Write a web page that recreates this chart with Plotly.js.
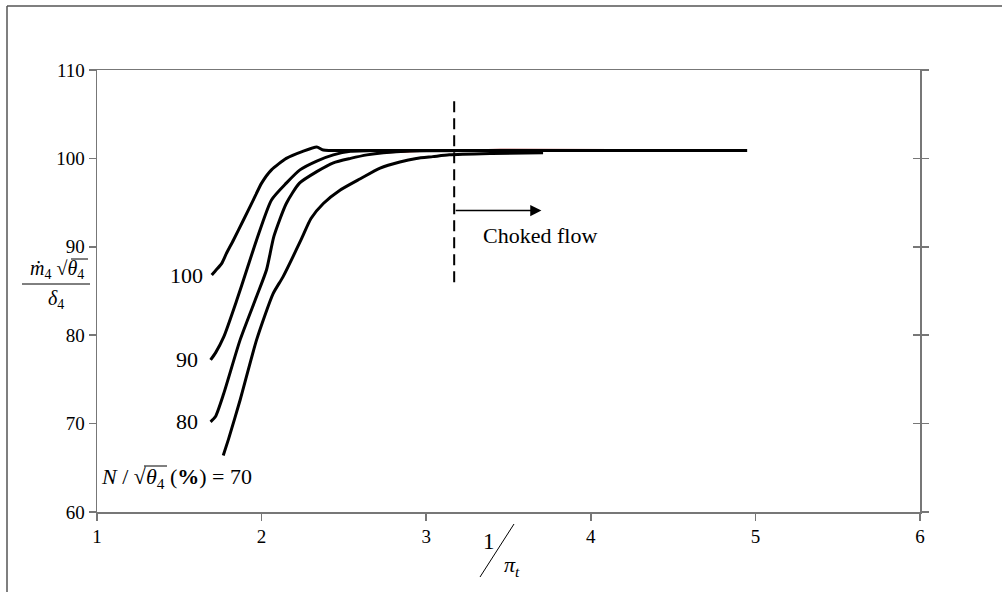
<!DOCTYPE html>
<html>
<head>
<meta charset="utf-8">
<script src="https://cdn.plot.ly/plotly-3.0.1.min.js"></script>
<style>
  html, body { margin: 0; padding: 0; background: #fff; }
  #chart { width: 1002px; height: 592px; }
</style>
</head>
<body>
<div id="chart"></div>
<script>
// Corrected turbine mass flow vs. inverse pressure ratio, one line per corrected speed
const speed100X = [1.697, 1.72, 1.757, 1.785, 1.83, 1.889, 1.95, 2.0, 2.06, 2.15, 2.25, 2.335, 2.375, 2.6, 3.5, 4.95];
const speed100Y = [86.8, 87.3, 88.1, 89.2, 90.8, 93.0, 95.3, 97.2, 98.7, 100.0, 100.8, 101.3, 100.95, 100.9, 100.9, 100.9];

const speed90X = [1.69, 1.72, 1.77, 1.85, 1.91, 1.97, 2.06, 2.15, 2.233, 2.335, 2.436, 2.54, 2.7, 3.0, 4.8];
const speed90Y = [77.2, 78.0, 79.8, 84.0, 87.4, 90.8, 95.3, 97.2, 98.7, 99.7, 100.4, 100.8, 100.9, 100.9, 100.9];

const speed80X = [1.69, 1.72, 1.77, 1.87, 1.97, 2.03, 2.075, 2.15, 2.23, 2.335, 2.436, 2.54, 2.64, 2.74, 2.9, 3.4];
const speed80Y = [70.2, 70.8, 73.4, 79.5, 84.4, 87.4, 91.2, 94.9, 97.2, 98.5, 99.5, 100.0, 100.4, 100.65, 100.85, 100.9];

const speed70X = [1.767, 1.80, 1.87, 1.97, 2.07, 2.13, 2.24, 2.3, 2.375, 2.476, 2.6, 2.72, 2.84, 2.94, 3.04, 3.14, 3.4, 3.71];
const speed70Y = [66.4, 68.3, 72.7, 79.5, 84.7, 86.6, 90.8, 93.2, 94.9, 96.4, 97.7, 98.9, 99.6, 100.0, 100.2, 100.4, 100.55, 100.65];

// thin reference line along the choked plateau
const plateauX = [2.7, 3.0, 3.45, 4.0, 4.8];
const plateauY = [100.6, 100.85, 101.0, 100.95, 100.95];

// onset of choking
const chokeX = 3.17;
const chokeSpanY = [86.0, 106.6];
const arrowEndX = 3.70;
const arrowY = 94.1;

const speedLabels = ["100", "90", "80"];
const xTicks = [1, 2, 3, 4, 5, 6];
const yTicks = [60, 70, 80, 90, 100, 110];

const serif = "Liberation Serif";
const black = "#000";

function curve(x, y) {
  return { x: x, y: y, type: "scatter", mode: "lines",
           line: { color: black, width: 3, shape: "spline", smoothing: 0.6 },
           hoverinfo: "skip", showlegend: false };
}

const traces = [
  { x: plateauX, y: plateauY, type: "scatter", mode: "lines",
    line: { color: "#8b0000", width: 1.5 }, hoverinfo: "skip", showlegend: false },
  curve(speed70X, speed70Y),
  curve(speed80X, speed80Y),
  curve(speed90X, speed90Y),
  curve(speed100X, speed100Y),
  { x: [chokeX, chokeX], y: chokeSpanY, type: "scatter", mode: "lines", yaxis: "y2",
    line: { color: black, width: 2, dash: "11px,6px" }, hoverinfo: "skip", showlegend: false }
];

// pixel -> paper helpers for the decorations outside the plotting area
const L = 97, R = 920, T = 70, B = 512;
const px = v => (v - L) / (R - L);
const py = v => (B - v) / (B - T);

function label(x, y, text, size, extra) {
  return Object.assign({ x: x, y: y, xref: "paper", yref: "paper", text: text,
    xanchor: "center", yanchor: "middle",
    showarrow: false, font: { family: serif, size: size, color: black } }, extra || {});
}

const annotations = [
  { x: arrowEndX, y: arrowY, ax: chokeX, ay: arrowY, axref: "x", ayref: "y",
    xref: "x", yref: "y", text: "", showarrow: true, arrowhead: 2, arrowsize: 1.4,
    arrowwidth: 1.6, arrowcolor: black, standoff: 0 },
  label(px(540), py(235), "Choked flow", 22),
  label(px(205), speed100Y[0], speedLabels[0], 22, { yref: "y", xanchor: "right" }),
  label(px(200), speed90Y[0], speedLabels[1], 22, { yref: "y", xanchor: "right" }),
  label(px(200), speed80Y[0], speedLabels[2], 22, { yref: "y", xanchor: "right" }),
  label(px(99), py(478), "<i>N</i> / √<i>θ</i><sub>4</sub> (<b>%</b>) = 70", 22, { xanchor: "left" }),
  // y-axis quantity as a fraction
  label(px(57), py(269), "<i>ṁ</i><sub>4</sub> √<i>θ</i><sub>4</sub>", 20),
  label(px(56), py(299), "<i>δ</i><sub>4</sub>", 20),
  // x-axis quantity 1 / pi_t
  label(px(489), py(541), "1", 23),
  label(px(512), py(566), "<i>π</i><sub><i>t</i></sub>", 22)
];

function hline(x0, x1, y, w) {
  return { type: "line", xref: "paper", yref: "paper", x0: px(x0), x1: px(x1), y0: py(y), y1: py(y),
           line: { color: black, width: w } };
}

const shapes = [
  // outer frame (left and top edges)
  { type: "line", xref: "paper", yref: "paper", x0: px(7), x1: px(7), y0: py(6), y1: py(592),
    line: { color: "#555", width: 1.5 } },
  { type: "line", xref: "paper", yref: "paper", x0: px(7), x1: px(1002), y0: py(6), y1: py(6),
    line: { color: "#555", width: 1.5 } },
  // fraction bar
  hline(22, 90, 284, 1),
  // radical bars over theta_4
  hline(71, 88, 259, 1),
  hline(144, 167, 466, 1),
  // slash of 1 / pi_t
  { type: "line", xref: "paper", yref: "paper", x0: px(480), x1: px(514), y0: py(577), y1: py(524),
    line: { color: black, width: 1 } }
];

const axisFont = { family: serif, size: 19, color: black };

const layout = {
  width: 1002, height: 592,
  margin: { l: L, r: 1002 - R, t: T, b: 592 - B, pad: 0 },
  paper_bgcolor: "#fff", plot_bgcolor: "#fff",
  showlegend: false,
  xaxis: {
    range: [1, 6], tickvals: xTicks, ticktext: xTicks.map(String),
    showgrid: false, zeroline: false,
    showline: true, linecolor: "#777", linewidth: 1.5, mirror: true,
    ticks: "outside", ticklen: 7, tickcolor: "#777", tickwidth: 1.5,
    tickfont: axisFont
  },
  yaxis: {
    range: [60, 110], tickvals: yTicks, ticktext: yTicks.map(String),
    showgrid: false, zeroline: false,
    showline: true, linecolor: "#777", linewidth: 1.5, mirror: "ticks",
    ticks: "outside", ticklen: 7, tickcolor: "#777", tickwidth: 1.5,
    tickfont: axisFont
  },
  // inner half of the crossing ticks on the right edge
  yaxis2: {
    range: [60, 110], tickvals: yTicks, overlaying: "y", side: "right", anchor: "x",
    showgrid: false, zeroline: false, showline: false, showticklabels: false,
    ticks: "inside", ticklen: 7, tickcolor: "#777", tickwidth: 1.5
  },
  annotations: annotations,
  shapes: shapes
};

Plotly.newPlot("chart", traces, layout, { staticPlot: true, displayModeBar: false });
</script>
</body>
</html>
